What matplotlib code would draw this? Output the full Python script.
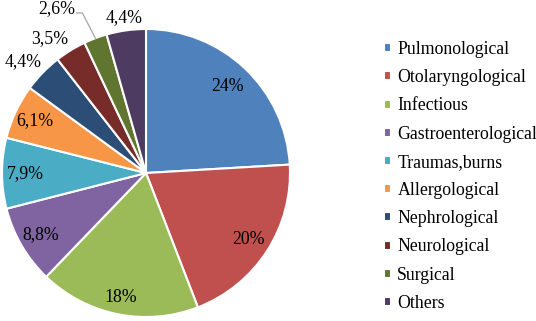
import matplotlib
matplotlib.use("Agg")
import matplotlib.pyplot as plt
import numpy as np

categories = ["Pulmonological", "Otolaryngological", "Infectious", "Gastroenterological",
              "Traumas,burns", "Allergological", "Nephrological", "Neurological",
              "Surgical", "Others"]
values = [24, 20, 18, 8.8, 7.9, 6.1, 4.4, 3.5, 2.6, 4.4]
value_labels = ["24%", "20%", "18%", "8,8%", "7,9%", "6,1%", "4,4%", "3,5%", "2,6%", "4,4%"]
colors = ["#4F81BD", "#C0504D", "#9BBB59", "#8064A2", "#4BACC6", "#F79646",
          "#2C4D75", "#772C2A", "#5F7530", "#4D3B62"]
# label placement style: radius factor and angular shift (deg, counter-clockwise)
label_radius = [0.83, 0.85, 0.88, 0.85, 0.84, 0.85, 1.15, 1.15, 1.30, 1.09]
label_shift = [0, 0, 0, 0, 0, 0, 2, 4, 8, 0]

plt.rcParams['font.family'] = ['Liberation Serif', 'DejaVu Serif']

W, H = 536, 321
fig = plt.figure(figsize=(W / 100, H / 100), dpi=100)
cx, cy, R = 146, 148, 144
ax = fig.add_axes([(cx - R) / W, (cy - R) / H, 2 * R / W, 2 * R / H])

wedges, _ = ax.pie(values, colors=colors, startangle=90, counterclock=False,
                   radius=1.0, wedgeprops=dict(edgecolor="white", linewidth=1.5))
ax.set_xlim(-1, 1)
ax.set_ylim(-1, 1)
ax.set_aspect("equal")
ax.axis("off")

text_pos = []
for w, lab, r, s in zip(wedges, value_labels, label_radius, label_shift):
    ang = np.deg2rad((w.theta1 + w.theta2) / 2 + s)
    x, y = r * np.cos(ang), r * np.sin(ang)
    text_pos.append((x, y))
    ax.text(x, y, lab, ha="center", va="center", fontsize=12.8, color="black",
            clip_on=False)

# leader line for the 2,6% label
w = wedges[8]
ang = np.deg2rad((w.theta1 + w.theta2) / 2)
tx, ty = text_pos[8]
ax.plot([tx + 0.14, tx + 0.18, 1.0 * np.cos(ang)],
        [ty - 0.03, ty - 0.03, 1.0 * np.sin(ang)],
        color="#A6A6A6", linewidth=0.9, clip_on=False)

fig.legend(wedges, categories, loc="upper left", bbox_to_anchor=(384 / W, 1 - 41 / H),
           frameon=False, fontsize=12.8, handlelength=0.4, handleheight=0.4,
           handletextpad=0.35, labelspacing=0.63, borderaxespad=0, borderpad=0)

fig.savefig("out.png", dpi=100)
